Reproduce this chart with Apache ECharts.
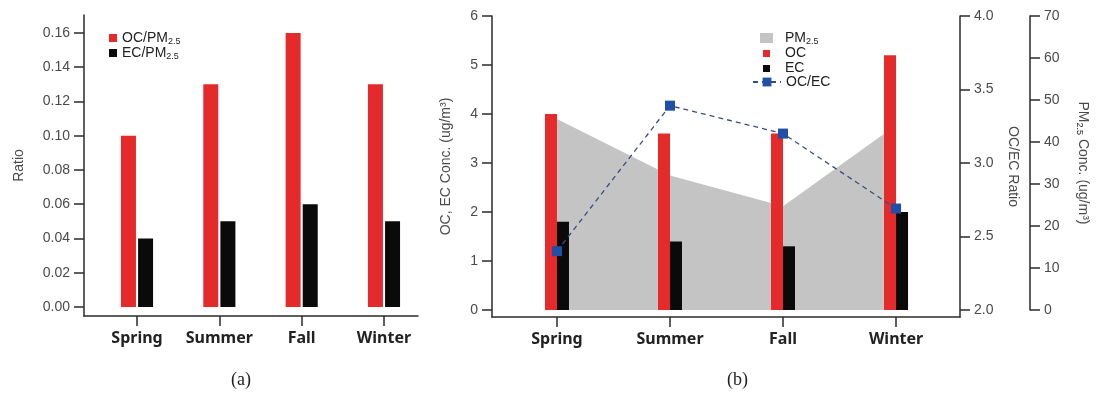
<!DOCTYPE html>
<html>
<head>
<meta charset="utf-8">
<script src="https://cdn.jsdelivr.net/npm/echarts@6/dist/echarts.min.js"></script>
<style>
  html, body { margin: 0; padding: 0; background: #fff; }
  #chart { width: 1099px; height: 393px; }
</style>
</head>
<body>
<div id="chart"></div>
<script>
// 数据
var seasons = ['Spring', 'Summer', 'Fall', 'Winter'];
// (a)
var ocPmRatio = [0.10, 0.13, 0.16, 0.13];
var ecPmRatio = [0.04, 0.05, 0.06, 0.05];
// (b)
var ocConc = [4.0, 3.6, 3.6, 5.2];
var ecConc = [1.8, 1.4, 1.3, 2.0];
var ocEcRatio = [2.4, 3.39, 3.2, 2.69];
var pm25Conc = [45.5, 32, 24.7, 44];
// 刻度
var ratioTicks = [0, 0.02, 0.04, 0.06, 0.08, 0.10, 0.12, 0.14, 0.16];
var concTicks = [0, 1, 2, 3, 4, 5, 6];
var ocEcTicks = [2.0, 2.5, 3.0, 3.5, 4.0];
var pmTicks = [0, 10, 20, 30, 40, 50, 60, 70];
var seasonTicks = [0, 1, 2, 3];

var RED = '#e42a2b', BLACK = '#0a0a0a', GRAY = '#c4c4c4', BLUE = '#1f4fa6';
var AXIS = '#2b2b2b', LABEL = '#4a4a4a';
var NUM_FONT = 'Liberation Sans';
var CAT_FONT = 'Noto Sans';

var chartDemo = {
	/**
	 * 转成 [x, y] 数据
	 */
	pairs : function(arr) {
		return arr.map(function(v, i) { return [seasonTicks[i], v]; });
	},
	/**
	 * 图例/轴名的下标
	 */
	subFormat : function(name) {
		return name.replace('2.5', '{s|2.5}');
	},
	subRich : {
		s: { fontSize: 9, fontFamily: NUM_FONT, color: '#222', padding: [7, 0, 0, 0] }
	},
	seasonAxis : function(gridIndex, min, max, show) {
		return {
			type: 'value', gridIndex: gridIndex, min: min, max: max, show: show,
			axisLine: { show: true, onZero: false, lineStyle: { color: AXIS, width: 1.5 } },
			axisTick: { show: true, length: 10, customValues: seasonTicks, lineStyle: { color: AXIS, width: 1.5 } },
			axisLabel: {
				customValues: seasonTicks, margin: 14,
				fontFamily: CAT_FONT, fontWeight: 'bold', fontSize: 16, color: '#222',
				formatter: function(v) { return seasons[Math.round(v)]; }
			},
			splitLine: { show: false }
		};
	},
	valueAxis : function(gridIndex, min, max, ticks, digits, pos, offset) {
		return {
			type: 'value', gridIndex: gridIndex, min: min, max: max, position: pos, offset: offset || 0,
			axisLine: { show: true, onZero: false, lineStyle: { color: AXIS, width: 1.5 } },
			axisTick: { show: true, length: 10, customValues: ticks, lineStyle: { color: AXIS, width: 1.5 } },
			axisLabel: {
				customValues: ticks, margin: 14,
				fontFamily: NUM_FONT, fontSize: 14, color: LABEL,
				formatter: function(v) { return v.toFixed(digits); }
			},
			splitLine: { show: false }
		};
	},
	showChart : function() {
		var myChart = echarts.init(document.getElementById('chart'));
		var yA = chartDemo.valueAxis(0, -0.0053, 0.1705, ratioTicks, 2, 'left');
		yA.name = 'Ratio';
		yA.nameLocation = 'middle';
		yA.nameGap = 58;
		yA.nameTextStyle = { fontFamily: NUM_FONT, fontSize: 14, color: LABEL };

		var yB = chartDemo.valueAxis(1, -0.143, 6, concTicks, 0, 'left');
		yB.name = 'OC, EC Conc. (ug/m³)';
		yB.nameLocation = 'middle';
		yB.nameGap = 39;
		yB.nameTextStyle = { fontFamily: NUM_FONT, fontSize: 14, color: LABEL };

		var yC = chartDemo.valueAxis(1, 1.952, 4, ocEcTicks, 1, 'right');
		yC.name = 'OC/EC Ratio';
		yC.nameLocation = 'middle';
		yC.nameRotate = -90;
		yC.nameGap = 46;
		yC.nameTextStyle = { fontFamily: NUM_FONT, fontSize: 14, color: LABEL };

		var yD = chartDemo.valueAxis(2, 0, 70, pmTicks, 0, 'right', 70);
		yD.name = 'PM{s|2.5} Conc. (ug/m³)';
		yD.nameLocation = 'middle';
		yD.nameRotate = -90;
		yD.nameGap = 45;
		yD.nameTextStyle = { fontFamily: NUM_FONT, fontSize: 14, color: LABEL, rich: chartDemo.subRich };

		var legendText = { fontFamily: NUM_FONT, fontSize: 14, color: '#222', rich: chartDemo.subRich };

		var option = {
			backgroundColor: '#fff',
			animation: false,
			title: [
				{ text: '(a)', left: 226, top: 366, textStyle: { fontFamily: 'Liberation Serif', fontSize: 18, fontWeight: 'normal', color: '#222' } },
				{ text: '(b)', left: 722, top: 366, textStyle: { fontFamily: 'Liberation Serif', fontSize: 18, fontWeight: 'normal', color: '#222' } }
			],
			legend: [
				{
					left: 104, top: 26, orient: 'vertical', itemGap: 0,
					itemWidth: 8, itemHeight: 8, icon: 'rect',
					data: ['OC/PM2.5', 'EC/PM2.5'],
					formatter: chartDemo.subFormat, textStyle: legendText
				},
				{
					left: 755, top: 26, orient: 'vertical', itemGap: 0,
					itemWidth: 13, itemHeight: 10, icon: 'rect',
					data: ['PM2.5'],
					formatter: chartDemo.subFormat,
					textStyle: { fontFamily: NUM_FONT, fontSize: 14, color: '#222', rich: chartDemo.subRich, padding: [0, 0, 0, 7] }
				},
				{
					left: 758, top: 41, orient: 'vertical', itemGap: 0,
					itemWidth: 7, itemHeight: 7, icon: 'rect',
					data: ['OC', 'EC'],
					textStyle: { fontFamily: NUM_FONT, fontSize: 14, color: '#222', lineHeight: 15, padding: [0, 0, 0, 10] }
				},
				{
					left: 747, top: 70, orient: 'vertical',
					itemWidth: 28, itemHeight: 11,
					data: ['OC/EC'],
					textStyle: { fontFamily: NUM_FONT, fontSize: 14, color: '#222' }
				}
			],
			grid: [
				{ left: 84, right: 681, top: 15, bottom: 77 },
				{ left: 492, right: 139, top: 16, bottom: 76 },
				{ left: 492, right: 139, top: 16, bottom: 83 }
			],
			xAxis: [
				chartDemo.seasonAxis(0, -0.644, 3.413, true),
				chartDemo.seasonAxis(1, -0.575, 3.566, true),
				chartDemo.seasonAxis(2, -0.575, 3.566, false)
			],
			yAxis: [yA, yB, yC, yD],
			series: [
				{
					name: 'OC/PM2.5', type: 'bar', xAxisIndex: 0, yAxisIndex: 0,
					barWidth: 15, barGap: '14%',
					itemStyle: { color: RED },
					data: chartDemo.pairs(ocPmRatio)
				},
				{
					name: 'EC/PM2.5', type: 'bar', xAxisIndex: 0, yAxisIndex: 0,
					barWidth: 15, barGap: '14%',
					itemStyle: { color: BLACK },
					data: chartDemo.pairs(ecPmRatio)
				},
				{
					name: 'PM2.5', type: 'line', xAxisIndex: 2, yAxisIndex: 3,
					showSymbol: false, z: 1,
					itemStyle: { color: GRAY },
					lineStyle: { width: 0, color: GRAY },
					areaStyle: { color: GRAY, opacity: 1 },
					data: chartDemo.pairs(pm25Conc)
				},
				{
					name: 'OC', type: 'bar', xAxisIndex: 1, yAxisIndex: 1,
					barWidth: 12, barGap: '0%',
					itemStyle: { color: RED },
					data: chartDemo.pairs(ocConc)
				},
				{
					name: 'EC', type: 'bar', xAxisIndex: 1, yAxisIndex: 1,
					barWidth: 12, barGap: '0%',
					itemStyle: { color: BLACK },
					data: chartDemo.pairs(ecConc)
				},
				{
					name: 'OC/EC', type: 'line', xAxisIndex: 1, yAxisIndex: 2,
					symbol: 'rect', symbolSize: 10, z: 5,
					itemStyle: { color: BLUE },
					lineStyle: { color: '#3b4b80', width: 1.3, type: [5, 4] },
					data: chartDemo.pairs(ocEcRatio)
				}
			]
		};
		myChart.setOption(option);
	}
};

chartDemo.showChart();
</script>
</body>
</html>
